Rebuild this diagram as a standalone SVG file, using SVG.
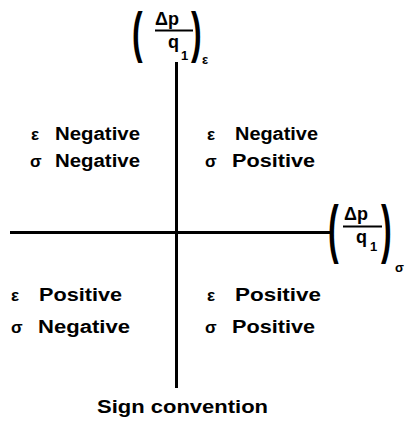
<svg xmlns="http://www.w3.org/2000/svg" width="409" height="421" viewBox="0 0 409 421">
<style>
  text { font-family: "Liberation Sans", Arial, sans-serif; font-weight: bold; fill: #000; }
  .lbl { font-size: 18px; }
  .sym { font-size: 17px; }
  .par { font-size: 64px; }
  .par-top { font-size: 56px; }
  .frac { font-size: 18px; }
  .sub { font-size: 13px; }
  .axis { stroke: #000; stroke-width: 3; fill: none; }
  .bar { stroke: #000; stroke-width: 2; }
</style>
<rect width="409" height="421" fill="#fff"/>
<g id="connectors">
  <line class="axis" x1="176.5" y1="62" x2="176.5" y2="388"/>
  <line class="axis" x1="10" y1="232.5" x2="331" y2="232.5"/>
</g>
<g id="label-eps-axis">
  <text class="par-top" transform="translate(132,51) scale(0.57,1)">(</text>
  <text class="frac" x="155" y="25">Δp</text>
  <line class="bar" x1="155" y1="30.5" x2="193" y2="30.5"/>
  <text class="frac" x="168" y="48">q</text>
  <text class="sub" x="181" y="60">1</text>
  <text class="par-top" transform="translate(191,51) scale(0.57,1)">)</text>
  <text class="sub" x="202" y="64">ε</text>
</g>
<g id="label-sigma-axis">
  <text class="par" transform="translate(328,251) scale(0.5,1)">(</text>
  <text class="frac" x="344" y="220">Δp</text>
  <line class="bar" x1="343" y1="226.5" x2="382" y2="226.5"/>
  <text class="frac" x="356" y="243">q</text>
  <text class="sub" x="370" y="251">1</text>
  <text class="par" transform="translate(381,251) scale(0.5,1)">)</text>
  <text class="sub" x="395" y="272">σ</text>
</g>
<g id="q-top-left">
  <text class="sym" x="31" y="140">ε</text>
  <text class="lbl" x="55" y="140" textLength="85" lengthAdjust="spacingAndGlyphs">Negative</text>
  <text class="sym" x="30" y="167">σ</text>
  <text class="lbl" x="55" y="167" textLength="85" lengthAdjust="spacingAndGlyphs">Negative</text>
</g>
<g id="q-top-right">
  <text class="sym" x="207" y="140">ε</text>
  <text class="lbl" x="235" y="140" textLength="83" lengthAdjust="spacingAndGlyphs">Negative</text>
  <text class="sym" x="205" y="167">σ</text>
  <text class="lbl" x="232" y="167" textLength="83" lengthAdjust="spacingAndGlyphs">Positive</text>
</g>
<g id="q-bottom-left">
  <text class="sym" x="11" y="301">ε</text>
  <text class="lbl" x="39" y="301" textLength="83" lengthAdjust="spacingAndGlyphs">Positive</text>
  <text class="sym" x="11" y="333">σ</text>
  <text class="lbl" x="38" y="333" textLength="92" lengthAdjust="spacingAndGlyphs">Negative</text>
</g>
<g id="q-bottom-right">
  <text class="sym" x="207" y="301">ε</text>
  <text class="lbl" x="235" y="301" textLength="86" lengthAdjust="spacingAndGlyphs">Positive</text>
  <text class="sym" x="205" y="333">σ</text>
  <text class="lbl" x="232" y="333" textLength="83" lengthAdjust="spacingAndGlyphs">Positive</text>
</g>
<g id="caption">
  <text class="lbl" x="97" y="413" textLength="171" lengthAdjust="spacingAndGlyphs">Sign convention</text>
</g>
</svg>
